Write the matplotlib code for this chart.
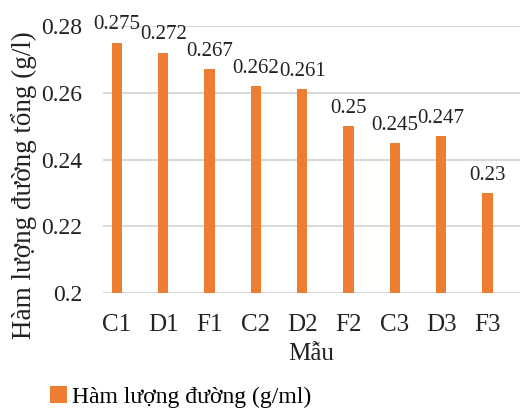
import matplotlib.pyplot as plt

mau = ['C1', 'D1', 'F1', 'C2', 'D2', 'F2', 'C3', 'D3', 'F3']
ham_luong = [0.275, 0.272, 0.267, 0.262, 0.261, 0.25, 0.245, 0.247, 0.23]
y_ticks = [0.2, 0.22, 0.24, 0.26, 0.28]
y_tick_labels = ['0.2', '0.22', '0.24', '0.26', '0.28']

plt.rcParams['font.family'] = ['Liberation Serif', 'DejaVu Serif']

fig = plt.figure(figsize=(5.2, 4.08), dpi=100)
ax = fig.add_axes([0.198, 0.282, 0.802, 0.654])

x = list(range(len(mau)))
bars = ax.bar(x, ham_luong, width=0.22, color='#ED7D31', label='Hàm lượng đường (g/ml)', zorder=3)
labels = ax.bar_label(bars, labels=[str(v) for v in ham_luong], padding=6, fontsize=15, color='#222222')
for t in labels:
    t.set_clip_on(False)

ax.set_ylim(0.2, 0.28)
ax.set_xlim(-0.3, 8.7)
ax.set_yticks(y_ticks)
ax.set_yticklabels(y_tick_labels)
ax.set_xticks(x)
ax.set_xticklabels(mau)
ax.tick_params(axis='y', length=0, labelsize=17, pad=15, colors='#222222')
ax.tick_params(axis='x', length=0, labelsize=18, pad=15, colors='#222222')
ax.grid(axis='y', color='#D9D9D9', linewidth=1.5, zorder=0)
for s in ax.spines.values():
    s.set_visible(False)

ax.set_xlabel('Mẫu', fontsize=18, labelpad=5, color='#222222')
fig.text(0.047, 0.546, 'Hàm lượng đường tổng (g/l)', rotation=90, fontsize=19.5,
         ha='center', va='center', color='#222222')

fig.legend(loc='lower left', bbox_to_anchor=(0.065, -0.04), frameon=False, fontsize=17,
           handlelength=0.7, handleheight=0.7, handletextpad=0.2, borderaxespad=0.3)

fig.savefig('out.png', dpi=100)
